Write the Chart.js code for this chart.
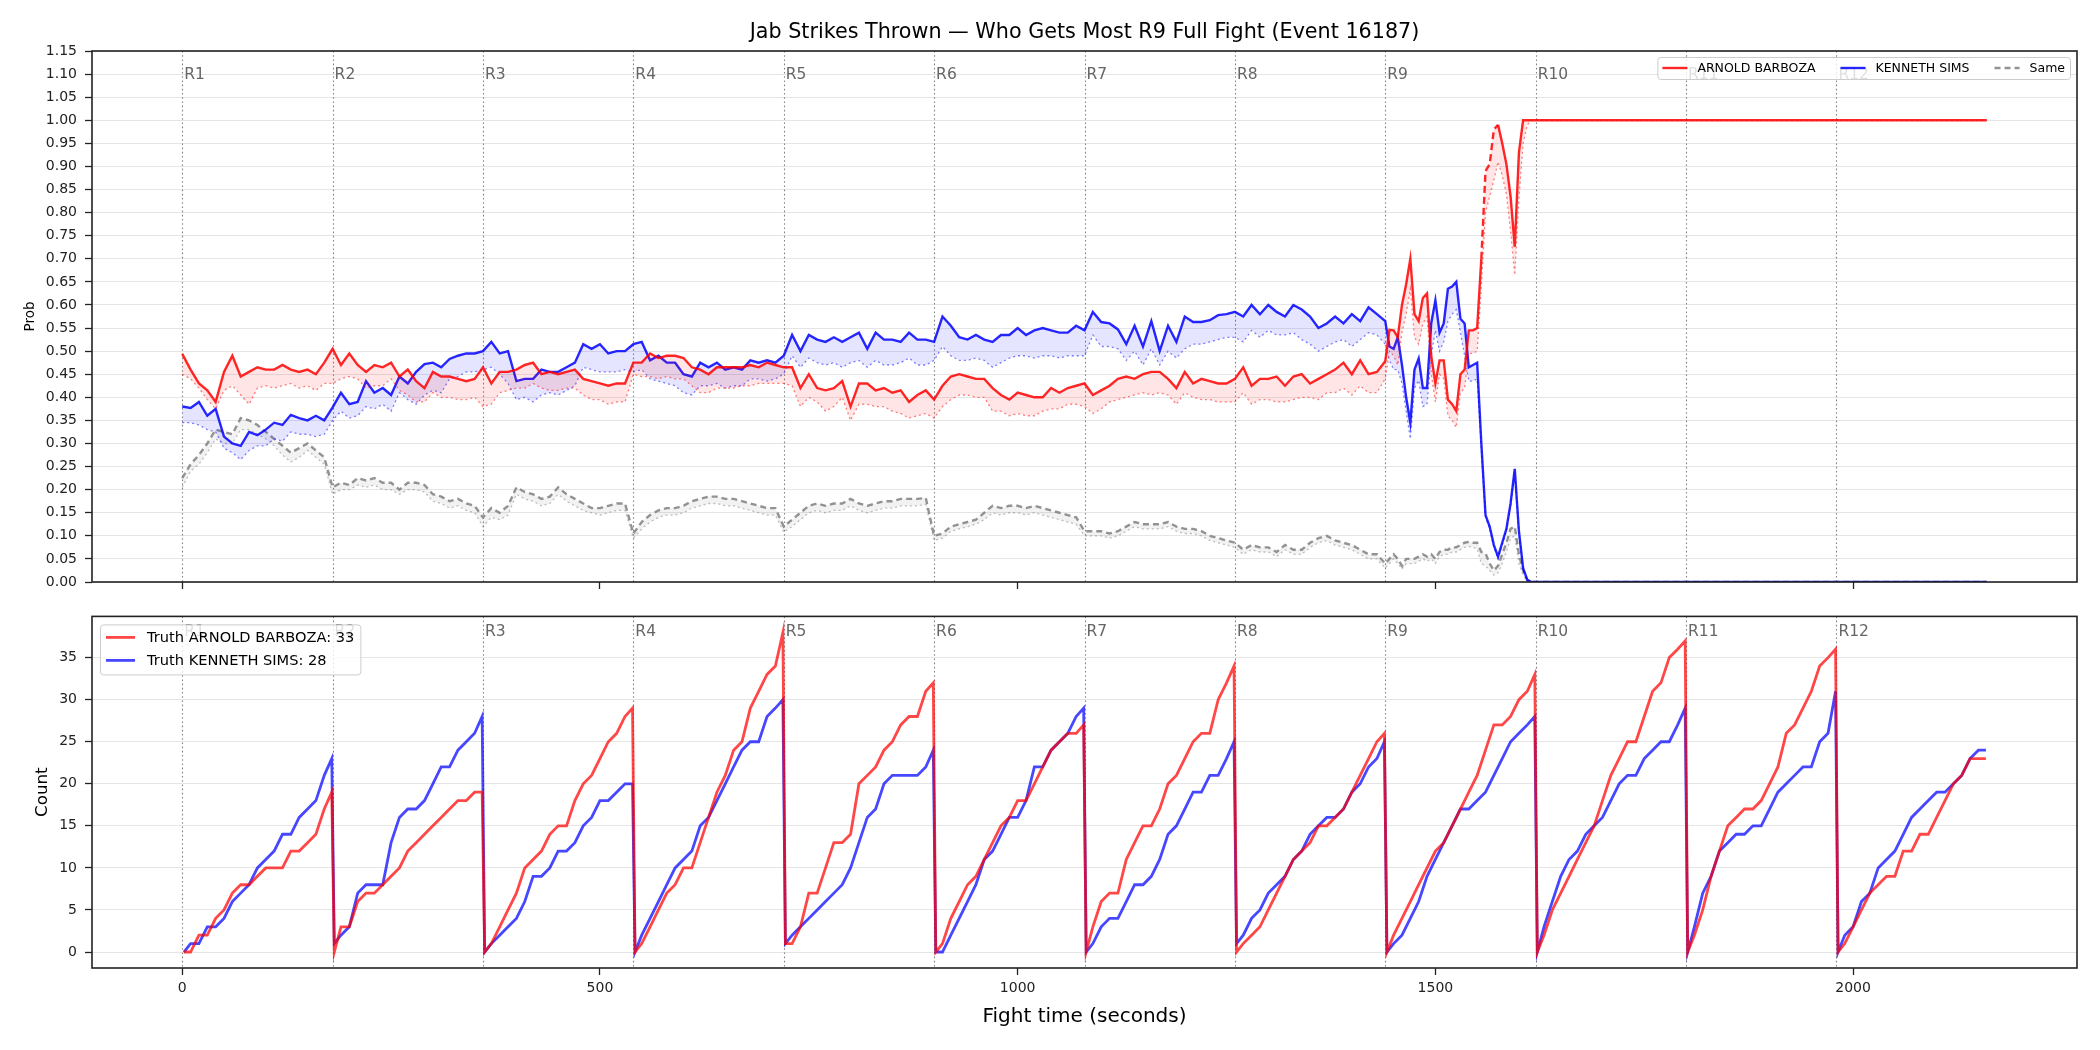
<!DOCTYPE html>
<html>
<head>
<meta charset="utf-8">
<script src="https://cdn.jsdelivr.net/npm/chart.js@4.4.1/dist/chart.umd.min.js"></script>
<style>
  html, body { margin: 0; padding: 0; background: #fff; }
  #wrap { position: relative; width: 2100px; height: 1050px; }
  canvas { position: absolute; left: 0; }
  #probChart { top: 0; }
  #countChart { top: 600px; }
</style>
</head>
<body>
<div id="wrap">
  <canvas id="probChart" width="2100" height="600"></canvas>
  <canvas id="countChart" width="2100" height="450"></canvas>
</div>
<script>
const chartTitle = 'Jab Strikes Thrown \u2014 Who Gets Most R9 Full Fight (Event 16187)'
const fighterA = 'ARNOLD BARBOZA'
const fighterB = 'KENNETH SIMS'
const truthA = 33
const truthB = 28
const roundStarts = [0, 180, 360, 540, 720, 900, 1080, 1260, 1440, 1620, 1800, 1980]
const roundLabels = ['R1', 'R2', 'R3', 'R4', 'R5', 'R6', 'R7', 'R8', 'R9', 'R10', 'R11', 'R12']
const timeTicks = [0, 500, 1000, 1500, 2000]

// sample times: every 10 s for R1-R8, every 5 s in R9, then the flat tail
const probTimes = []
for (let t = 0; t < 1440; t += 10) probTimes.push(t)
for (let t = 1440; t < 1620; t += 5) probTimes.push(t)
probTimes.push(1620, 2160)

const pBarboza = [
  [0.494,0.46,0.43,0.415,0.39,0.455,0.49,0.445,0.455,0.465,0.46,0.46,0.47,0.46,0.455,0.46,0.45,0.475],
  [0.505,0.47,0.495,0.47,0.455,0.47,0.465,0.475,0.445,0.46,0.435,0.42,0.455,0.445,0.445,0.44,0.435,0.44],
  [0.465,0.43,0.455,0.455,0.46,0.47,0.475,0.45,0.455,0.45,0.455,0.46,0.44,0.435,0.43,0.425,0.43,0.43],
  [0.475,0.475,0.495,0.485,0.49,0.49,0.485,0.465,0.46,0.45,0.465,0.465,0.465,0.465,0.47,0.465,0.475,0.47],
  [0.465,0.465,0.42,0.45,0.42,0.415,0.42,0.435,0.38,0.43,0.43,0.415,0.42,0.41,0.415,0.39,0.405,0.415],
  [0.395,0.425,0.445,0.45,0.445,0.44,0.44,0.42,0.405,0.395,0.41,0.405,0.4,0.4,0.42,0.41,0.42,0.425],
  [0.43,0.405,0.415,0.425,0.44,0.445,0.44,0.45,0.455,0.455,0.44,0.42,0.455,0.43,0.44,0.435,0.43,0.43],
  [0.44,0.465,0.425,0.44,0.44,0.445,0.425,0.445,0.45,0.43,0.44,0.45,0.46,0.475,0.45,0.48,0.45,0.455],
  [0.478,0.546,0.545,0.53,0.6,0.645,0.7,0.58,0.565,0.615,0.625,0.49,0.43,0.48,0.48,0.395,0.385,0.37,
   0.45,0.46,0.545,0.545,0.55,0.7,0.89,0.905,0.98,0.99,0.95,0.905,0.835,0.726,0.93,1.0,1.0,1.0],
  [1.0, 1.0]
].flat()
const pBarbozaLow = [
  [0.45,0.44,0.42,0.395,0.375,0.415,0.425,0.405,0.385,0.42,0.425,0.42,0.425,0.43,0.42,0.425,0.415,0.43],
  [0.43,0.44,0.445,0.44,0.42,0.425,0.425,0.44,0.415,0.405,0.39,0.39,0.41,0.4,0.4,0.395,0.395,0.4],
  [0.38,0.385,0.41,0.415,0.42,0.42,0.43,0.42,0.415,0.415,0.42,0.42,0.405,0.395,0.395,0.385,0.39,0.39],
  [0.45,0.445,0.445,0.44,0.445,0.44,0.44,0.425,0.41,0.41,0.42,0.42,0.42,0.425,0.425,0.43,0.43,0.43],
  [0.43,0.425,0.38,0.4,0.39,0.37,0.38,0.4,0.35,0.385,0.385,0.38,0.38,0.37,0.365,0.355,0.36,0.365],
  [0.355,0.38,0.395,0.405,0.405,0.4,0.4,0.37,0.37,0.36,0.365,0.36,0.36,0.37,0.375,0.375,0.385,0.385],
  [0.38,0.365,0.375,0.39,0.395,0.4,0.405,0.41,0.405,0.41,0.405,0.385,0.41,0.4,0.395,0.395,0.39,0.39],
  [0.39,0.41,0.385,0.395,0.395,0.39,0.39,0.395,0.4,0.4,0.395,0.41,0.41,0.42,0.405,0.425,0.41,0.41],
  [0.44,0.5,0.49,0.47,0.54,0.58,0.635,0.53,0.515,0.56,0.575,0.45,0.39,0.45,0.44,0.36,0.35,0.335,
   0.41,0.42,0.495,0.495,0.5,0.64,0.8,0.835,0.87,0.91,0.88,0.84,0.76,0.665,0.83,0.95,0.99,1.0],
  [1.0, 1.0]
].flat()
const pSims = [
  [0.38,0.377,0.39,0.36,0.375,0.315,0.3,0.295,0.325,0.318,0.33,0.345,0.34,0.362,0.355,0.35,0.36,0.35],
  [0.378,0.41,0.385,0.39,0.435,0.41,0.42,0.405,0.445,0.43,0.455,0.472,0.475,0.465,0.483,0.49,0.495,0.495],
  [0.5,0.52,0.495,0.5,0.435,0.44,0.44,0.46,0.455,0.455,0.465,0.475,0.515,0.505,0.515,0.495,0.5,0.5],
  [0.515,0.52,0.48,0.49,0.475,0.475,0.45,0.445,0.475,0.465,0.475,0.46,0.465,0.46,0.48,0.475,0.48,0.475],
  [0.49,0.535,0.5,0.535,0.525,0.52,0.53,0.52,0.53,0.54,0.505,0.54,0.525,0.525,0.52,0.54,0.525,0.525],
  [0.52,0.575,0.555,0.53,0.525,0.535,0.525,0.52,0.535,0.535,0.55,0.535,0.545,0.55,0.545,0.54,0.54,0.555],
  [0.545,0.585,0.563,0.56,0.547,0.515,0.555,0.51,0.565,0.5,0.555,0.52,0.575,0.563,0.563,0.567,0.578,0.58],
  [0.585,0.575,0.6,0.58,0.6,0.585,0.575,0.6,0.59,0.575,0.55,0.56,0.575,0.56,0.58,0.565,0.595,0.58],
  [0.565,0.51,0.505,0.53,0.47,0.4,0.345,0.46,0.484,0.42,0.42,0.56,0.61,0.54,0.56,0.635,0.64,0.65,
   0.57,0.56,0.465,0.47,0.475,0.3,0.145,0.12,0.08,0.055,0.085,0.115,0.17,0.245,0.11,0.03,0.005,0.0],
  [0.0, 0.0]
].flat()
const pSimsLow = [
  [0.345,0.345,0.34,0.33,0.325,0.29,0.28,0.265,0.285,0.295,0.295,0.31,0.305,0.325,0.32,0.32,0.315,0.32],
  [0.35,0.37,0.355,0.36,0.38,0.375,0.385,0.37,0.41,0.395,0.385,0.405,0.415,0.41,0.44,0.445,0.455,0.455],
  [0.46,0.465,0.45,0.43,0.395,0.4,0.39,0.405,0.41,0.405,0.415,0.425,0.465,0.46,0.455,0.455,0.455,0.46],
  [0.455,0.46,0.44,0.435,0.43,0.425,0.41,0.405,0.425,0.425,0.43,0.42,0.425,0.425,0.44,0.44,0.435,0.44],
  [0.45,0.49,0.465,0.485,0.475,0.47,0.475,0.465,0.475,0.48,0.465,0.48,0.47,0.47,0.475,0.485,0.47,0.47],
  [0.48,0.51,0.49,0.48,0.48,0.485,0.48,0.465,0.475,0.485,0.49,0.49,0.485,0.49,0.49,0.485,0.49,0.49],
  [0.49,0.535,0.51,0.51,0.505,0.48,0.5,0.47,0.505,0.47,0.5,0.485,0.505,0.515,0.515,0.52,0.525,0.53],
  [0.53,0.52,0.545,0.53,0.545,0.535,0.535,0.54,0.525,0.515,0.5,0.51,0.52,0.525,0.51,0.525,0.54,0.535],
  [0.515,0.48,0.46,0.46,0.43,0.37,0.31,0.42,0.437,0.38,0.385,0.49,0.545,0.5,0.52,0.565,0.58,0.59,
   0.54,0.49,0.435,0.435,0.44,0.29,0.14,0.115,0.075,0.05,0.08,0.11,0.165,0.24,0.105,0.028,0.004,0.0],
  [0.0, 0.0]
].flat()
const pSame = [
  [0.225,0.255,0.275,0.3,0.33,0.325,0.32,0.355,0.35,0.34,0.325,0.31,0.295,0.28,0.29,0.3,0.285,0.27],
  [0.205,0.215,0.21,0.225,0.22,0.225,0.215,0.215,0.2,0.215,0.215,0.21,0.19,0.185,0.175,0.18,0.17,0.165],
  [0.14,0.16,0.15,0.165,0.205,0.195,0.19,0.18,0.185,0.205,0.19,0.18,0.17,0.16,0.16,0.165,0.17,0.17],
  [0.105,0.13,0.145,0.155,0.16,0.16,0.165,0.175,0.18,0.185,0.185,0.18,0.18,0.175,0.17,0.165,0.16,0.16],
  [0.12,0.135,0.15,0.165,0.17,0.165,0.17,0.17,0.18,0.17,0.165,0.17,0.175,0.175,0.18,0.18,0.18,0.182],
  [0.1,0.105,0.12,0.125,0.13,0.135,0.15,0.165,0.16,0.165,0.165,0.16,0.165,0.16,0.155,0.15,0.145,0.14],
  [0.11,0.11,0.11,0.105,0.11,0.12,0.13,0.125,0.125,0.125,0.13,0.12,0.115,0.115,0.11,0.1,0.095,0.09],
  [0.085,0.07,0.08,0.075,0.075,0.065,0.08,0.07,0.07,0.085,0.095,0.1,0.09,0.085,0.08,0.07,0.06,0.06],
  [0.04,0.05,0.06,0.05,0.035,0.05,0.05,0.05,0.055,0.06,0.055,0.06,0.05,0.065,0.07,0.07,0.075,0.075,
   0.08,0.085,0.087,0.085,0.085,0.065,0.062,0.04,0.025,0.035,0.06,0.085,0.115,0.12,0.06,0.025,0.003,0.0],
  [0.0, 0.0]
].flat()
const pSameLow = [
  [0.205,0.24,0.255,0.28,0.31,0.3,0.3,0.33,0.33,0.32,0.31,0.295,0.275,0.26,0.27,0.285,0.27,0.255],
  [0.19,0.2,0.2,0.21,0.205,0.21,0.2,0.2,0.19,0.2,0.2,0.195,0.175,0.17,0.16,0.165,0.155,0.15],
  [0.12,0.14,0.135,0.145,0.19,0.18,0.175,0.165,0.17,0.19,0.175,0.165,0.155,0.15,0.145,0.15,0.155,0.155],
  [0.095,0.115,0.13,0.14,0.145,0.145,0.15,0.16,0.165,0.17,0.17,0.165,0.165,0.16,0.155,0.15,0.145,0.145],
  [0.108,0.12,0.135,0.15,0.155,0.15,0.155,0.155,0.165,0.155,0.15,0.155,0.16,0.16,0.165,0.165,0.165,0.168],
  [0.09,0.095,0.11,0.115,0.12,0.125,0.135,0.15,0.145,0.15,0.15,0.145,0.15,0.145,0.14,0.135,0.13,0.125],
  [0.1,0.1,0.1,0.095,0.1,0.11,0.12,0.115,0.115,0.115,0.12,0.11,0.105,0.105,0.1,0.09,0.085,0.08],
  [0.075,0.06,0.07,0.065,0.065,0.055,0.07,0.06,0.06,0.075,0.085,0.09,0.08,0.075,0.07,0.06,0.05,0.05],
  [0.03,0.04,0.05,0.04,0.028,0.04,0.04,0.04,0.045,0.05,0.045,0.05,0.04,0.055,0.06,0.06,0.065,0.065,
   0.07,0.075,0.077,0.075,0.072,0.04,0.035,0.025,0.015,0.02,0.04,0.065,0.095,0.1,0.04,0.015,0.002,0.0],
  [0.0, 0.0]
].flat()

// cumulative jab counts, sampled at these offsets inside each round
const countOffsets = [2, 10, 20, 30, 40, 50, 60, 70, 80, 90, 100, 110, 120, 130, 140, 150, 160, 170, 179]
const countTimes = []
roundStarts.forEach(s => countOffsets.forEach(o => countTimes.push(s + o)))

const cBarboza = [
  [0,0,2,2,4,5,7,8,8,9,10,10,10,12,12,13,14,17,19],
  [0,3,3,6,7,7,8,9,10,12,13,14,15,16,17,18,18,19,19],
  [0,1,3,5,7,10,11,12,14,15,15,18,20,21,23,25,26,28,29],
  [0,1,3,5,7,8,10,10,13,16,19,21,24,25,29,31,33,34,38],
  [1,1,3,7,7,10,13,13,14,20,21,22,24,25,27,28,28,31,32],
  [0,1,4,6,8,9,11,13,15,16,18,18,20,22,24,25,26,26,27],
  [0,3,6,7,7,11,13,15,15,17,20,21,23,25,26,26,30,32,34],
  [0,1,2,3,5,7,9,11,12,13,15,15,16,17,19,21,23,25,26],
  [0,2,4,6,8,10,12,13,15,17,19,21,24,27,27,28,30,31,33],
  [0,2,5,7,9,11,13,15,18,21,23,25,25,28,31,32,35,36,37],
  [0,2,5,9,12,15,16,17,17,18,20,22,26,27,29,31,34,35,36],
  [0,1,3,5,7,8,9,9,12,12,14,14,16,18,20,21,23,23,23]
].flat()
const cSims = [
  [0,1,1,3,3,4,6,7,8,10,11,12,14,14,16,17,18,21,23],
  [1,2,3,7,8,8,8,13,16,17,17,18,20,22,22,24,25,26,28],
  [0,1,2,3,4,6,9,9,10,12,12,13,15,16,18,18,19,20,20],
  [0,2,4,6,8,10,11,12,15,16,18,20,22,24,25,25,28,29,30],
  [1,2,3,4,5,6,7,8,10,13,16,17,20,21,21,21,21,22,24],
  [0,0,2,4,6,8,11,12,14,16,16,18,22,22,24,25,26,28,29],
  [0,1,3,4,4,6,8,8,9,11,14,15,17,19,19,21,21,23,25],
  [1,2,4,5,7,8,9,11,12,14,15,16,16,17,19,20,22,23,25],
  [0,1,2,4,6,9,11,13,15,17,17,18,19,21,23,25,26,27,28],
  [0,3,6,9,11,12,14,15,16,18,20,21,21,23,24,25,25,27,29],
  [0,3,7,9,12,13,14,14,15,15,17,19,20,21,22,22,25,26,31],
  [0,2,3,6,7,10,11,12,14,16,17,18,19,19,20,21,23,24,24]
].flat()

const FONT = 'DejaVu Sans'
Chart.defaults.font.family = FONT
Chart.defaults.color = '#222'

const pts = (xs, ys) => xs.map((x, i) => ({ x: x, y: ys[i] }))

// round markers, frame, titles and legend drawn on the canvas
const drawRounds = chart => {
  const { ctx, chartArea, scales } = chart
  ctx.save()
  ctx.strokeStyle = 'rgba(90,90,90,0.75)'
  ctx.lineWidth = 1.1
  ctx.setLineDash([1.6, 2.6])
  roundStarts.forEach(s => {
    const x = Math.round(scales.x.getPixelForValue(s)) + 0.5
    ctx.beginPath()
    ctx.moveTo(x, chartArea.top)
    ctx.lineTo(x, chartArea.bottom)
    ctx.stroke()
  })
  ctx.restore()
}

const drawRoundLabels = (chart, labelValue) => {
  const { ctx, scales } = chart
  ctx.save()
  ctx.fillStyle = '#666'
  ctx.font = '15.5px "' + FONT + '"'
  ctx.textBaseline = 'middle'
  ctx.textAlign = 'left'
  const y = scales.y.getPixelForValue(labelValue)
  roundStarts.forEach((s, i) => {
    ctx.fillText(roundLabels[i], scales.x.getPixelForValue(s) + 2, y)
  })
  ctx.restore()
}

const drawFrame = chart => {
  const { ctx, chartArea } = chart
  ctx.save()
  ctx.strokeStyle = '#222'
  ctx.lineWidth = 1.6
  ctx.strokeRect(chartArea.left, chartArea.top, chartArea.right - chartArea.left, chartArea.bottom - chartArea.top)
  ctx.restore()
}

const legendBox = (ctx, x, y, w, h) => {
  ctx.save()
  ctx.fillStyle = 'rgba(255,255,255,0.8)'
  ctx.strokeStyle = '#cccccc'
  ctx.lineWidth = 1
  ctx.beginPath()
  ctx.roundRect(x + 0.5, y + 0.5, w, h, 3)
  ctx.fill()
  ctx.stroke()
  ctx.restore()
}

const legendLine = (ctx, x0, x1, y, color, width, dash) => {
  ctx.save()
  ctx.strokeStyle = color
  ctx.lineWidth = width
  ctx.setLineDash(dash || [])
  ctx.beginPath()
  ctx.moveTo(x0, y)
  ctx.lineTo(x1, y)
  ctx.stroke()
  ctx.restore()
}

const probDecor = {
  id: 'probDecor',
  beforeDatasetsDraw(chart) { drawRounds(chart) },
  afterDraw(chart) {
    const { ctx, chartArea } = chart
    drawRoundLabels(chart, 1.098)
    drawFrame(chart)
    ctx.save()
    ctx.fillStyle = '#000'
    ctx.font = '20.7px "' + FONT + '"'
    ctx.textAlign = 'center'
    ctx.textBaseline = 'middle'
    ctx.fillText(chartTitle, (chartArea.left + chartArea.right) / 2, 33)
    ctx.font = '13.5px "' + FONT + '"'
    ctx.translate(30, (chartArea.top + chartArea.bottom) / 2)
    ctx.rotate(-Math.PI / 2)
    ctx.fillText('Prob', 0, 0)
    ctx.restore()

    // legend, upper right, three columns
    const items = [
      { label: fighterA, color: 'rgba(255,0,0,0.85)', width: 2.4 },
      { label: fighterB, color: 'rgba(0,0,255,0.85)', width: 2.4 },
      { label: 'Same', color: 'rgba(128,128,128,0.85)', width: 2.4, dash: [6, 4] }
    ]
    ctx.save()
    ctx.font = '12.5px "' + FONT + '"'
    const handle = 25, gap = 10, colSpace = 25, pad = 5
    let w = pad * 2
    items.forEach((it, i) => { w += handle + gap + ctx.measureText(it.label).width + (i < items.length - 1 ? colSpace : 0) })
    const bx = chartArea.right - 7 - w, by = chartArea.top + 6, bh = 22
    legendBox(ctx, bx, by, w, bh)
    let x = bx + pad
    const cy = by + bh / 2
    items.forEach(it => {
      legendLine(ctx, x, x + handle, cy, it.color, it.width, it.dash)
      ctx.fillStyle = '#000'
      ctx.textBaseline = 'middle'
      ctx.fillText(it.label, x + handle + gap, cy + 0.5)
      x += handle + gap + ctx.measureText(it.label).width + colSpace
    })
    ctx.restore()
  }
}

const countDecor = {
  id: 'countDecor',
  beforeDatasetsDraw(chart) { drawRounds(chart) },
  afterDraw(chart) {
    const { ctx, chartArea } = chart
    drawRoundLabels(chart, 38.0)
    drawFrame(chart)
    ctx.save()
    ctx.fillStyle = '#000'
    ctx.textAlign = 'center'
    ctx.textBaseline = 'middle'
    ctx.font = '20px "' + FONT + '"'
    ctx.fillText('Fight time (seconds)', (chartArea.left + chartArea.right) / 2, 417)
    ctx.font = '16.7px "' + FONT + '"'
    ctx.translate(43, (chartArea.top + chartArea.bottom) / 2)
    ctx.rotate(-Math.PI / 2)
    ctx.fillText('Count', 0, 0)
    ctx.restore()

    // legend, upper left, two rows
    const items = [
      { label: 'Truth ' + fighterA + ': ' + truthA, color: 'rgba(255,0,0,0.72)' },
      { label: 'Truth ' + fighterB + ': ' + truthB, color: 'rgba(0,0,255,0.72)' }
    ]
    ctx.save()
    ctx.font = '14.6px "' + FONT + '"'
    const handle = 29, gap = 12, pad = 6
    const tw = Math.max(...items.map(it => ctx.measureText(it.label).width))
    const bx = chartArea.left + 8, by = chartArea.top + 8
    const bw = pad + handle + gap + tw + pad, bh = 50
    legendBox(ctx, bx, by, bw, bh)
    items.forEach((it, i) => {
      const cy = by + 13 + i * 23
      legendLine(ctx, bx + pad, bx + pad + handle, cy, it.color, 2.8)
      ctx.fillStyle = '#000'
      ctx.textBaseline = 'middle'
      ctx.fillText(it.label, bx + pad + handle + gap, cy + 0.5)
    })
    ctx.restore()
  }
}

const xAxis = (showLabels, height) => ({
  type: 'linear',
  min: -108,
  max: 2268,
  afterFit(s) { s.height = height },
  afterBuildTicks(s) { s.ticks = timeTicks.map(v => ({ value: v })) },
  border: { display: false },
  grid: { display: true, drawOnChartArea: false, drawTicks: true, tickLength: 7, tickColor: '#222', tickWidth: 1.3 },
  ticks: { display: showLabels, autoSkip: false, maxRotation: 0, padding: 5,
           font: { size: 14 }, color: '#222', callback: v => String(v) }
})

const yGrid = { color: 'rgba(0,0,0,0.1)', lineWidth: 1, drawTicks: true, tickLength: 7, tickColor: '#222', tickWidth: 1.3 }

const segDash = c => (c.p0.parsed.x >= 1555 && c.p1.parsed.x <= 1575) ? [7, 4] : undefined

new Chart(document.getElementById('probChart'), {
  type: 'line',
  data: {
    datasets: [
      { label: fighterA, data: pts(probTimes, pBarboza), borderColor: 'rgba(255,0,0,0.85)', borderWidth: 2.4,
        segment: { borderDash: segDash } },
      { label: fighterA + ' low', data: pts(probTimes, pBarbozaLow), borderColor: 'rgba(255,0,0,0.5)', borderWidth: 1.3,
        borderDash: [2, 3], fill: '-1', backgroundColor: 'rgba(255,0,0,0.1)' },
      { label: fighterB, data: pts(probTimes, pSims), borderColor: 'rgba(0,0,255,0.85)', borderWidth: 2.4 },
      { label: fighterB + ' low', data: pts(probTimes, pSimsLow), borderColor: 'rgba(0,0,255,0.5)', borderWidth: 1.3,
        borderDash: [2, 3], fill: '-1', backgroundColor: 'rgba(0,0,255,0.1)' },
      { label: 'Same', data: pts(probTimes, pSame), borderColor: 'rgba(128,128,128,0.85)', borderWidth: 2.4,
        borderDash: [6, 4] },
      { label: 'Same low', data: pts(probTimes, pSameLow), borderColor: 'rgba(128,128,128,0.5)', borderWidth: 1.3,
        borderDash: [2, 3], fill: '-1', backgroundColor: 'rgba(128,128,128,0.1)' }
    ]
  },
  options: {
    responsive: false,
    animation: false,
    devicePixelRatio: 1,
    layout: { padding: { left: 0, right: 23, top: 51, bottom: 0 } },
    elements: { point: { radius: 0 }, line: { tension: 0, fill: false } },
    plugins: { legend: { display: false }, tooltip: { enabled: false }, title: { display: false } },
    scales: {
      x: xAxis(false, 18),
      y: {
        min: 0,
        max: 1.15,
        afterFit(s) { s.width = 92 },
        border: { display: false },
        grid: yGrid,
        ticks: { stepSize: 0.05, includeBounds: false, autoSkip: false, padding: 8, font: { size: 14 }, color: '#222',
                 callback: v => v.toFixed(2) }
      }
    }
  },
  plugins: [probDecor]
})

new Chart(document.getElementById('countChart'), {
  type: 'line',
  data: {
    datasets: [
      { label: 'Truth ' + fighterA, data: pts(countTimes, cBarboza), borderColor: 'rgba(255,0,0,0.72)', borderWidth: 2.8 },
      { label: 'Truth ' + fighterB, data: pts(countTimes, cSims), borderColor: 'rgba(0,0,255,0.72)', borderWidth: 2.8 }
    ]
  },
  options: {
    responsive: false,
    animation: false,
    devicePixelRatio: 1,
    layout: { padding: { left: 0, right: 23, top: 13, bottom: 0 } },
    elements: { point: { radius: 0 }, line: { tension: 0, fill: false } },
    plugins: { legend: { display: false }, tooltip: { enabled: false }, title: { display: false } },
    scales: {
      x: xAxis(true, 82),
      y: {
        min: -1.9,
        max: 39.9,
        afterFit(s) { s.width = 92 },
        border: { display: false },
        grid: yGrid,
        ticks: { stepSize: 5, includeBounds: false, autoSkip: false, padding: 8, font: { size: 14 }, color: '#222' }
      }
    }
  },
  plugins: [countDecor]
})
</script>
</body>
</html>
